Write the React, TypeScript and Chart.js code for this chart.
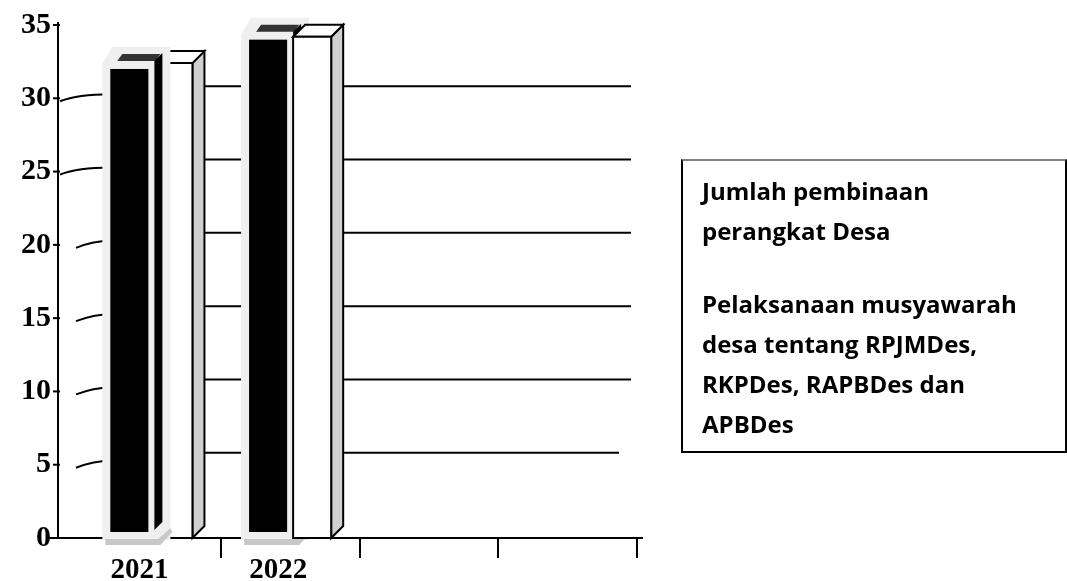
import { useEffect, useRef } from "react";
import { Chart, registerables } from "chart.js";

Chart.register(...registerables);

// ---- data ----
const categories = ["2021", "2022", "", ""];
const pembinaanValues: (number | null)[] = [32, 34, null, null];
const musyawarahValues: (number | null)[] = [32.4, 34.2, null, null];
const yTickValues = [0, 5, 10, 15, 20, 25, 30, 35];
const seriesLabels = [
  "Jumlah pembinaan perangkat Desa",
  "Pelaksanaan musyawarah desa tentang RPJMDes, RKPDes, RAPBDes dan APBDes",
];
const legendLines = [
  "Jumlah pembinaan\nperangkat Desa",
  "Pelaksanaan musyawarah\ndesa tentang RPJMDes,\nRKPDes, RAPBDes dan\nAPBDes",
];

const DEPTH = 12;
const SERIF = "'Liberation Serif', 'Times New Roman', serif";

function poly(ctx: CanvasRenderingContext2D, pts: number[][], fill?: string, stroke?: string, lw = 2) {
  ctx.beginPath();
  ctx.moveTo(pts[0][0], pts[0][1]);
  for (let i = 1; i < pts.length; i++) ctx.lineTo(pts[i][0], pts[i][1]);
  ctx.closePath();
  if (fill) {
    ctx.fillStyle = fill;
    ctx.fill();
  }
  if (stroke) {
    ctx.strokeStyle = stroke;
    ctx.lineWidth = lw;
    ctx.lineJoin = "miter";
    ctx.stroke();
  }
}

function drawWhiteBar(ctx: CanvasRenderingContext2D, el: any) {
  const x0 = el.x - el.width / 2;
  const x1 = el.x + el.width / 2;
  const top = el.y;
  const base = el.base;
  const d = DEPTH;
  poly(ctx, [[x1, top], [x1 + d, top - d], [x1 + d, base - d], [x1, base]], "#d0d0d0", "#000");
  poly(ctx, [[x0, top], [x0 + d, top - d], [x1 + d, top - d], [x1, top]], "#ffffff", "#000");
  poly(ctx, [[x0, top], [x1, top], [x1, base], [x0, base]], "#ffffff", "#000");
}

function drawBlackBar(ctx: CanvasRenderingContext2D, el: any) {
  const x0 = el.x - el.width / 2;
  const x1 = el.x + el.width / 2;
  const top = el.y;
  const base = el.base;
  // soft halo
  poly(ctx, [[x0 - 8, top - 5], [x0 + 2, top - 22], [x1 + 22, top - 22], [x1 + 22, base + 2], [x0 - 8, base + 2]], "#efefef");
  // bottom shadow
  poly(ctx, [[x0 - 5, base + 1], [x1 + 10, base + 1], [x1 + 22, base - 10], [x1 + 24, base - 6], [x1 + 12, base + 7], [x0 - 5, base + 7]], "#c8c8c8");
  // front face
  ctx.fillStyle = "#000";
  ctx.fillRect(x0, top, x1 - x0, base - 6 - top);
  // top face
  poly(ctx, [[x0 + 7, top - 8], [x1 + 7, top - 8], [x1 + 12, top - 15], [x0 + 12, top - 15]], "#333333");
  // side strip
  poly(ctx, [[x1 + 6, top - 8], [x1 + 14, top - 16], [x1 + 14, base - 16], [x1 + 6, base - 8]], "#000");
}

const decorPlugin = {
  id: "decor3d",
  beforeDatasetsDraw(chart: any) {
    const { ctx, chartArea, scales } = chart;
    const y = scales.y;
    const first = chart.getDatasetMeta(0).data[0];
    const barLeft = first.x - first.width / 2;
    const ax = chartArea.left - 24;
    ctx.save();
    ctx.strokeStyle = "#000";
    ctx.lineWidth = 2;
    for (const v of yTickValues) {
      if (v === 0 || v === 35) continue;
      const t = y.getPixelForValue(v);
      const sx = v >= 25 ? ax + 2 : ax + 18;
      ctx.beginPath();
      ctx.moveTo(sx, t + 3);
      ctx.quadraticCurveTo(sx + 18, t - 4, barLeft, t - 4);
      ctx.stroke();
      const gy = t - DEPTH;
      const end = v === 5 ? chartArea.right - 18 : chartArea.right - 6;
      ctx.beginPath();
      ctx.moveTo(barLeft, gy);
      ctx.lineTo(end, gy);
      ctx.stroke();
    }
    // y axis
    ctx.beginPath();
    ctx.moveTo(ax, chartArea.top - 3);
    ctx.lineTo(ax, chartArea.bottom);
    ctx.stroke();
    for (const v of yTickValues) {
      if (v === 0) continue;
      const t = y.getPixelForValue(v);
      ctx.beginPath();
      ctx.moveTo(ax - 5, t);
      ctx.lineTo(ax + 2, t);
      ctx.stroke();
    }
    // x axis
    ctx.beginPath();
    ctx.moveTo(ax - 12, chartArea.bottom);
    ctx.lineTo(chartArea.right + 6, chartArea.bottom);
    ctx.stroke();
    ctx.restore();
  },
  afterDatasetsDraw(chart: any) {
    const { ctx } = chart;
    const m0 = chart.getDatasetMeta(0);
    const m1 = chart.getDatasetMeta(1);
    ctx.save();
    categories.forEach((_, i) => {
      const b = m0.data[i];
      const w = m1.data[i];
      const hasB = pembinaanValues[i] !== null && b && isFinite(b.y);
      const hasW = musyawarahValues[i] !== null && w && isFinite(w.y);
      const blackInFront = i % 2 === 0;
      if (blackInFront) {
        if (hasW) drawWhiteBar(ctx, w);
        if (hasB) drawBlackBar(ctx, b);
      } else {
        if (hasB) drawBlackBar(ctx, b);
        if (hasW) drawWhiteBar(ctx, w);
      }
    });
    ctx.restore();
  },
};

export default function App() {
  const canvasRef = useRef<HTMLCanvasElement | null>(null);

  useEffect(() => {
    document.body.style.margin = "0";
    const canvas = canvasRef.current;
    if (!canvas) return;
    const chart = new Chart(canvas, {
      type: "bar",
      data: {
        labels: categories,
        datasets: [
          {
            label: seriesLabels[0],
            data: pembinaanValues,
            backgroundColor: "#000",
            borderWidth: 0,
            categoryPercentage: 0.635,
            barPercentage: 0.864,
          },
          {
            label: seriesLabels[1],
            data: musyawarahValues,
            backgroundColor: "#fff",
            borderColor: "#000",
            borderWidth: 2,
            categoryPercentage: 0.635,
            barPercentage: 0.864,
          },
        ],
      },
      options: {
        responsive: false,
        animation: false,
        events: [],
        layout: { padding: { top: 25, right: 430, left: 0, bottom: 0 } },
        plugins: {
          legend: { display: false },
          tooltip: { enabled: false },
        },
        scales: {
          x: {
            type: "category",
            border: { display: false },
            grid: {
              display: true,
              drawOnChartArea: false,
              drawTicks: true,
              tickLength: 20,
              lineWidth: 2,
              color: (c: any) => (c.index === 0 ? "rgba(0,0,0,0)" : "#000"),
            },
            ticks: {
              color: "#000",
              padding: -5,
              labelOffset: -12,
              autoSkip: false,
              maxRotation: 0,
              font: { family: SERIF, size: 29, weight: "bold" },
            },
            afterFit: (s: any) => {
              s.height = 43;
            },
          },
          y: {
            type: "linear",
            min: 0,
            max: 35,
            border: { display: false },
            grid: { display: false, drawTicks: true, tickLength: 31 },
            afterBuildTicks: (s: any) => {
              s.ticks = yTickValues.map((v) => ({ value: v }));
            },
            ticks: {
              color: "#000",
              padding: 0,
              font: { family: SERIF, size: 30, weight: "bold" },
            },
            afterFit: (s: any) => {
              s.width = 82;
            },
          },
        },
      },
      plugins: [decorPlugin],
    } as any);
    return () => chart.destroy();
  }, []);

  return (
    <div style={{ position: "relative", width: 1067, height: 581, overflow: "hidden", background: "#fff" }}>
      <canvas ref={canvasRef} width={1067} height={581} style={{ display: "block" }} />
      <div
        style={{
          position: "absolute",
          left: 681,
          top: 159,
          width: 386,
          height: 294,
          boxSizing: "border-box",
          border: "2px solid #000",
          borderTopColor: "#808080",
          padding: "10px 0 0 19px",
          fontFamily: "'Open Sans', Lato, sans-serif",
          fontWeight: 700,
          fontSize: 24,
          lineHeight: "40px",
          color: "#000",
          whiteSpace: "pre-line",
        }}
      >
        {legendLines.map((l, i) => (
          <div key={i} style={{ marginTop: i ? 33 : 0 }}>
            {l}
          </div>
        ))}
      </div>
    </div>
  );
}
